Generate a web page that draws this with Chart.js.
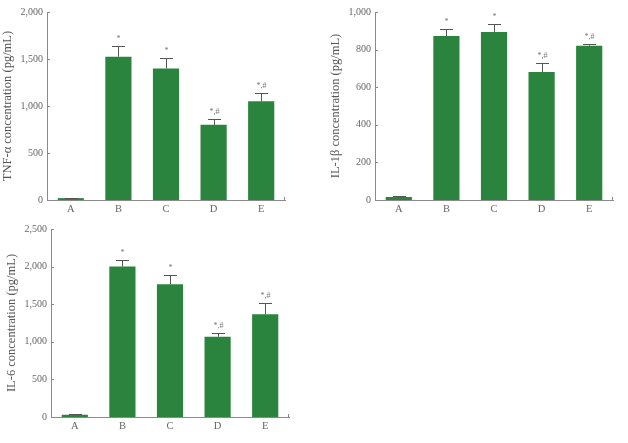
<!DOCTYPE html>
<html>
<head>
<meta charset="utf-8">
<script src="https://cdn.jsdelivr.net/npm/chart.js@4"></script>
<style>
  body { margin: 0; background: #fff; }
  .box { position: absolute; }
</style>
</head>
<body>
<div class="box" style="left:0px;top:0px"><canvas id="tnf-chart" width="300" height="220"></canvas></div>
<div class="box" style="left:328px;top:0px"><canvas id="il1b-chart" width="300" height="220"></canvas></div>
<div class="box" style="left:4px;top:217px"><canvas id="il6-chart" width="300" height="220"></canvas></div>
<script>
const categories = ['A', 'B', 'C', 'D', 'E'];
const marks = ['', '*', '*', '*,#', '*,#'];

const tnfValues = [20, 1525, 1400, 800, 1050];
const tnfErrors = [6, 115, 110, 62, 85];

const il1bValues = [16, 872, 894, 681, 821];
const il1bErrors = [4, 38, 40, 49, 9];

const il6Values = [30, 2000, 1766, 1067, 1368];
const il6Errors = [6, 90, 120, 55, 150];

const barColor = '#2a843e';
const axisColor = '#8a8a8a';
const textColor = '#666';
const fontFamily = '"Liberation Serif", "DejaVu Serif", serif';

// error bars, significance marks and inward ticks
const extrasPlugin = {
    id: 'extras',
    afterDatasetsDraw(chart, args, opts) {
        const ctx = chart.ctx;
        const yScale = chart.scales.y;
        const meta = chart.getDatasetMeta(0);
        ctx.save();
        ctx.strokeStyle = '#555';
        ctx.lineWidth = 1;
        opts.values.forEach((v, i) => {
            const x = Math.round(meta.data[i].x) + 0.5;
            const yBar = yScale.getPixelForValue(v);
            const yTop = Math.round(yScale.getPixelForValue(v + opts.errors[i])) + 0.5;
            ctx.beginPath();
            ctx.moveTo(x, yBar);
            ctx.lineTo(x, yTop);
            ctx.moveTo(x - 6.5, yTop);
            ctx.lineTo(x + 6.5, yTop);
            ctx.stroke();
            if (marks[i]) {
                ctx.fillStyle = '#777';
                ctx.font = '8px ' + fontFamily;
                ctx.textAlign = 'center';
                ctx.textBaseline = 'bottom';
                ctx.fillText(marks[i], x, yTop - 4);
            }
        });
        // inward ticks
        ctx.strokeStyle = axisColor;
        const left = chart.chartArea.left;
        yScale.ticks.forEach((t, i) => {
            const y = Math.round(yScale.getPixelForTick(i)) + 0.5;
            ctx.beginPath();
            ctx.moveTo(left, y);
            ctx.lineTo(left + 3, y);
            ctx.stroke();
        });
        const right = Math.round(chart.chartArea.right) - 0.5;
        const bottom = chart.chartArea.bottom;
        ctx.beginPath();
        ctx.moveTo(right, bottom);
        ctx.lineTo(right, bottom - 3);
        ctx.stroke();
        ctx.restore();
    }
};

function makeChart(id, values, errors, yTitle, yMax, yStep) {
    return new Chart(document.getElementById(id), {
        type: 'bar',
        data: {
            labels: categories,
            datasets: [{
                data: values,
                backgroundColor: barColor,
                borderWidth: 0,
                barPercentage: 0.55,
                categoryPercentage: 1,
            }],
        },
        options: {
            responsive: false,
            animation: false,
            layout: { padding: { top: 12, right: 15, bottom: 0, left: 0 } },
            plugins: {
                legend: { display: false },
                tooltip: { enabled: false },
                extras: { values: values, errors: errors },
            },
            scales: {
                x: {
                    offset: true,
                    grid: { display: false, drawTicks: false },
                    border: { display: true, color: axisColor, width: 1 },
                    ticks: { color: textColor, padding: 3, font: { family: fontFamily, size: 10.5 } },
                    afterFit: (scale) => { scale.height = 20; },
                },
                y: {
                    min: 0,
                    max: yMax,
                    grid: { display: false, drawTicks: false },
                    border: { display: true, color: axisColor, width: 1 },
                    ticks: {
                        stepSize: yStep,
                        color: textColor,
                        padding: 4,
                        font: { family: fontFamily, size: 10 },
                        callback: (v) => v.toLocaleString('en-US'),
                    },
                    title: {
                        display: true,
                        text: yTitle,
                        color: '#555',
                        padding: 0,
                        font: { family: fontFamily, size: 12.5 },
                    },
                    afterFit: (scale) => { scale.width = 47; },
                },
            },
        },
        plugins: [extrasPlugin],
    });
}

makeChart('tnf-chart', tnfValues, tnfErrors, 'TNF-α concentration (pg/mL)', 2000, 500);
makeChart('il1b-chart', il1bValues, il1bErrors, 'IL-1β concentration (pg/mL)', 1000, 200);
makeChart('il6-chart', il6Values, il6Errors, 'IL-6 concentration (pg/mL)', 2500, 500);
</script>
</body>
</html>
